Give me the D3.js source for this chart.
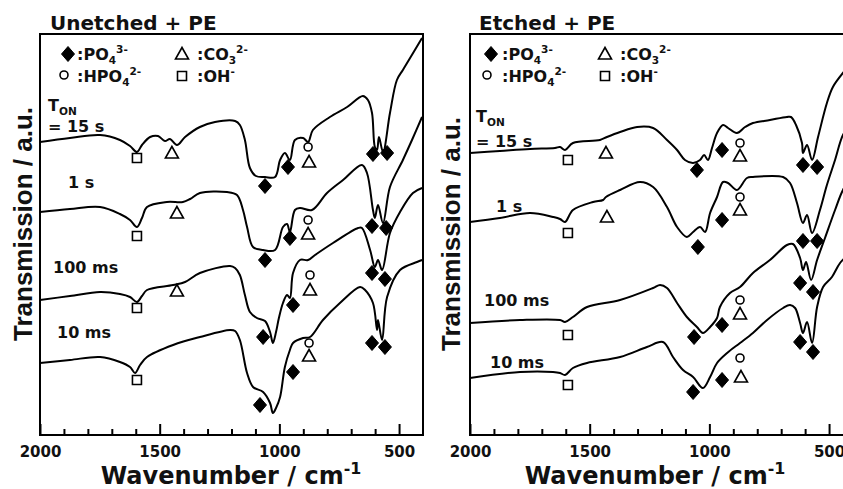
<!DOCTYPE html>
<meta charset="utf-8">
<script src="https://d3js.org/d3.v7.min.js"></script>
<style>
  body { margin: 0; background: #fff; }
  text { font-family: "DejaVu Sans", sans-serif; font-weight: bold; fill: #111; }
</style>
<div id="chart"></div>
<script>

// FTIR spectra, [wavenumber (cm-1), transmission (a.u., offset for stacking)]
const unetched15s = [[2000,293],[1875,297],[1749,300],[1666,295],[1624,289],[1595,283],[1574,290],[1540,298],[1507,299],[1478,294],[1457,296],[1428,290],[1394,298],[1332,308],[1269,313],[1185,314],[1165,310],[1144,295],[1123,267],[1098,259],[1060,258],[1018,258],[997,275],[977,282],[956,275],[935,295],[901,297],[880,293],[860,305],[789,318],[717,328],[651,339],[630,335],[613,322],[601,288],[592,285],[584,298],[567,283],[538,322],[509,355],[484,365],[454,377],[404,397]];
const unetched1s = [[2000,223],[1875,226],[1749,228],[1666,221],[1624,215],[1595,208],[1574,217],[1553,228],[1470,233],[1403,233],[1373,236],[1332,242],[1219,243],[1177,240],[1152,225],[1135,208],[1110,188],[1068,185],[1018,185],[985,208],[968,211],[956,203],[935,225],[914,227],[864,225],[801,242],[734,255],[655,270],[634,262],[609,225],[601,217],[588,230],[567,212],[538,248],[484,275],[446,295],[404,318]];
const unetched100ms = [[2000,135],[1875,139],[1749,143],[1666,141],[1624,138],[1595,133],[1574,139],[1553,145],[1444,150],[1394,153],[1332,162],[1206,169],[1185,167],[1165,160],[1144,140],[1123,123],[1094,117],[1060,114],[1039,103],[1027,92],[1014,103],[1002,117],[985,132],[968,140],[956,137],[943,162],[914,175],[880,175],[851,180],[776,192],[671,207],[655,207],[621,185],[601,168],[588,175],[571,165],[538,202],[496,223],[442,242],[404,247]];
const unetched10ms = [[2000,72],[1875,75],[1749,78],[1666,73],[1624,68],[1603,62],[1582,70],[1553,78],[1444,90],[1332,98],[1206,105],[1185,104],[1165,95],[1135,62],[1110,48],[1068,43],[1039,32],[1027,22],[1014,27],[997,38],[977,68],[956,85],[943,92],[901,97],[872,98],[818,115],[747,132],[663,148],[642,145],[609,132],[592,105],[588,115],[571,95],[550,138],[496,165],[425,173],[404,175]];

const etched15s = [[2000,282],[1875,284],[1749,286],[1645,287],[1624,288],[1603,285],[1570,292],[1457,295],[1428,298],[1373,303],[1302,308],[1235,307],[1177,295],[1135,285],[1102,275],[1068,272],[1039,275],[1022,280],[1006,275],[989,287],[968,302],[943,310],[922,307],[885,302],[851,308],[818,312],[747,315],[676,318],[659,318],[638,310],[613,292],[609,282],[592,290],[571,275],[546,298],[509,332],[484,348],[442,362],[400,373]];
const etched1s = [[2000,213],[1875,217],[1749,222],[1653,218],[1624,216],[1603,213],[1570,225],[1486,233],[1444,235],[1432,238],[1373,245],[1290,253],[1235,248],[1177,228],[1135,208],[1094,198],[1068,203],[1039,208],[1018,203],[997,222],[968,238],[943,253],[922,252],[885,245],[843,257],[818,258],[692,258],[663,252],[634,232],[609,212],[592,220],[571,202],[538,225],[509,250],[475,275],[442,300],[400,315]];
const etched100ms = [[2000,112],[1791,115],[1624,115],[1603,113],[1570,118],[1511,128],[1373,135],[1235,147],[1206,150],[1177,147],[1135,132],[1094,118],[1052,108],[1027,102],[997,108],[968,117],[956,128],[914,142],[872,148],[818,162],[747,175],[676,190],[651,191],[621,177],[609,165],[596,173],[575,155],[550,175],[517,197],[475,225],[442,245],[400,260]];
const etched10ms = [[2000,57],[1791,63],[1653,63],[1624,62],[1603,60],[1570,67],[1511,72],[1373,78],[1261,88],[1194,93],[1152,78],[1110,65],[1068,58],[1027,47],[997,58],[968,72],[926,82],[872,92],[818,102],[759,115],[692,127],[663,130],[642,127],[621,112],[609,102],[592,113],[571,92],[550,128],[525,148],[488,158],[454,172],[400,185]];

// band markers: [symbol, wavenumber, a.u.]  d=PO4 3-, c=HPO4 2-, t=CO3 2-, s=OH-
const unetchedMarks = [
  ["s",1595,277],["t",1449,282],["d",1060,249],["d",964,268],["c",880,288],["t",876,273],["d",609,281],["d",550,282],
  ["s",1595,199],["t",1428,222],["d",1060,175],["d",956,197],["c",880,215],["t",880,201],["d",613,209],["d",554,207],
  ["s",1595,127],["t",1428,144],["d",1068,98],["d",943,130],["c",872,160],["t",872,145],["d",613,162],["d",559,156],
  ["s",1595,55],["d",1081,30],["d",943,63],["c",876,92],["t",876,79],["d",613,92],["d",559,88]
];
const etchedMarks = [
  ["s",1591,275],["t",1432,282],["d",1052,265],["d",947,285],["c",872,292],["t",872,279],["d",609,270],["d",550,268],
  ["s",1591,202],["t",1428,218],["d",1048,188],["d",947,215],["c",872,238],["t",872,225],["d",609,194],["d",550,194],
  ["s",1591,100],["d",1064,98],["d",947,110],["c",872,135],["t",872,121],["d",621,152],["d",567,143],
  ["s",1591,50],["d",1068,43],["d",947,55],["c",872,77],["t",868,58],["d",621,93],["d",567,83]
];

const majorTicks = [2000, 1500, 1000, 500];
const minorTicks = [1900, 1800, 1700, 1600, 1400, 1300, 1200, 1100, 900, 800, 700, 600];
const curveLabels = ["1 s", "100 ms", "10 ms"];

const panels = [
  { title: "Unetched + PE", left: 40, right: 423, titleX: 50,
    curves: [unetched15s, unetched1s, unetched100ms, unetched10ms], marks: unetchedMarks,
    legend: [68, 77, 182, 197], ton: [48, 111, 132],
    labels: [[68, 188], [53, 273], [57, 338]], yLabel: [32, 224], xLabel: 231 },
  { title: "Etched + PE", left: 470, right: 853, titleX: 479,
    curves: [etched15s, etched1s, etched100ms, etched10ms], marks: etchedMarks,
    legend: [491, 502, 605, 620], ton: [476, 122, 147],
    labels: [[496, 212], [484, 306], [490, 368]], yLabel: [460, 234], xLabel: 655 }
];

const plotTop = 34, plotBottom = 435;
const svg = d3.select("#chart").append("svg")
    .attr("width", 843).attr("height", 489);

const y = d3.scaleLinear().domain([0, 401]).range([plotBottom, plotTop]);

const shapes = {
  d: "M0,-7.5L6.5,0L0,7.5L-6.5,0Z",
  t: "M0,-6.5L6.5,5H-6.5Z",
  s: "M-4.5,-4.5H4.5V4.5H-4.5Z",
  c: d3.symbol(d3.symbolCircle, 50)()
};
function mark(g, type, cx, cy) {
  g.append("path")
    .attr("d", shapes[type])
    .attr("transform", "translate(" + cx + "," + cy + ")")
    .attr("fill", type === "d" ? "#000" : "none")
    .attr("stroke", "#000")
    .attr("stroke-width", type === "d" ? 1 : 1.6);
}

// text with sub/superscripts
function richText(g, x, yy, parts, size) {
  const t = g.append("text").attr("x", x).attr("y", yy).style("font-size", size + "px");
  let shift = 0;
  parts.forEach(([str, k]) => {
    const target = k === "sub" ? size * 0.25 : k === "sup" ? -size * 0.42 : 0;
    t.append("tspan")
      .attr("dy", target - shift)
      .style("font-size", (k ? size * 0.66 : size) + "px")
      .text(str);
    shift = target;
  });
  return t;
}

panels.forEach(p => {
  const g = svg.append("g");
  const x = d3.scaleLinear().domain([2000, 400]).range([p.left, p.right]);

  // ticks (inward)
  const major = g.append("g")
    .attr("transform", "translate(0," + plotBottom + ")")
    .call(d3.axisBottom(x).tickValues(majorTicks).tickSize(-11).tickPadding(11).tickFormat(d3.format("d")));
  major.select(".domain").remove();
  major.selectAll("line").attr("stroke", "#000").attr("stroke-width", 2);
  major.selectAll("text").attr("font-family", null).style("font-size", "15px").attr("fill", "#111");

  const minor = g.append("g")
    .attr("transform", "translate(0," + plotBottom + ")")
    .call(d3.axisBottom(x).tickValues(minorTicks).tickSize(-6).tickFormat(""));
  minor.select(".domain").remove();
  minor.selectAll("line").attr("stroke", "#000").attr("stroke-width", 2);

  // frame
  g.append("rect")
    .attr("x", p.left).attr("y", plotTop)
    .attr("width", p.right - p.left).attr("height", plotBottom - plotTop)
    .attr("fill", "none").attr("stroke", "#000").attr("stroke-width", 2);

  // spectra
  const line = d3.line()
    .x(d => x(d[0])).y(d => y(d[1]))
    .curve(d3.curveCatmullRom.alpha(0.5));
  p.curves.forEach(c => {
    g.append("path").attr("d", line(c))
      .attr("fill", "none").attr("stroke", "#000").attr("stroke-width", 2)
      .attr("stroke-linejoin", "round");
  });

  p.marks.forEach(m => mark(g, m[0], x(m[1]), y(m[2])));

  // title
  g.append("text").attr("x", p.titleX).attr("y", 30).style("font-size", "20px").text(p.title);

  // legend
  const [dx, tx, tx2, tx3] = p.legend;
  mark(g, "d", dx, 54);
  richText(g, tx, 60, [[":PO", ""], ["4", "sub"], ["3-", "sup"]], 16);
  mark(g, "t", tx2, 54);
  richText(g, tx3, 60, [[":CO", ""], ["3", "sub"], ["2-", "sup"]], 16);
  mark(g, "c", dx - 4, 75);
  richText(g, tx, 82, [[":HPO", ""], ["4", "sub"], ["2-", "sup"]], 16);
  mark(g, "s", tx2, 76);
  richText(g, tx3, 82, [[":OH", ""], ["-", "sup"]], 16);

  // curve labels
  richText(g, p.ton[0], p.ton[1], [["T", ""], ["ON", "sub"]], 16);
  g.append("text").attr("x", p.ton[0]).attr("y", p.ton[2]).style("font-size", "16px").text("= 15 s");
  curveLabels.forEach((l, i) => {
    g.append("text").attr("x", p.labels[i][0]).attr("y", p.labels[i][1]).style("font-size", "16px").text(l);
  });

  // axis titles
  richText(g, p.xLabel, 484, [["Wavenumber / cm", ""], ["-1", "sup"]], 24)
    .attr("text-anchor", "middle");
  g.append("text")
    .attr("transform", "translate(" + p.yLabel[0] + "," + p.yLabel[1] + ") rotate(-90)")
    .attr("text-anchor", "middle")
    .style("font-family", "'Liberation Sans', Arial, sans-serif")
    .style("font-size", "26px")
    .text("Transmission / a.u.");
});

</script>
